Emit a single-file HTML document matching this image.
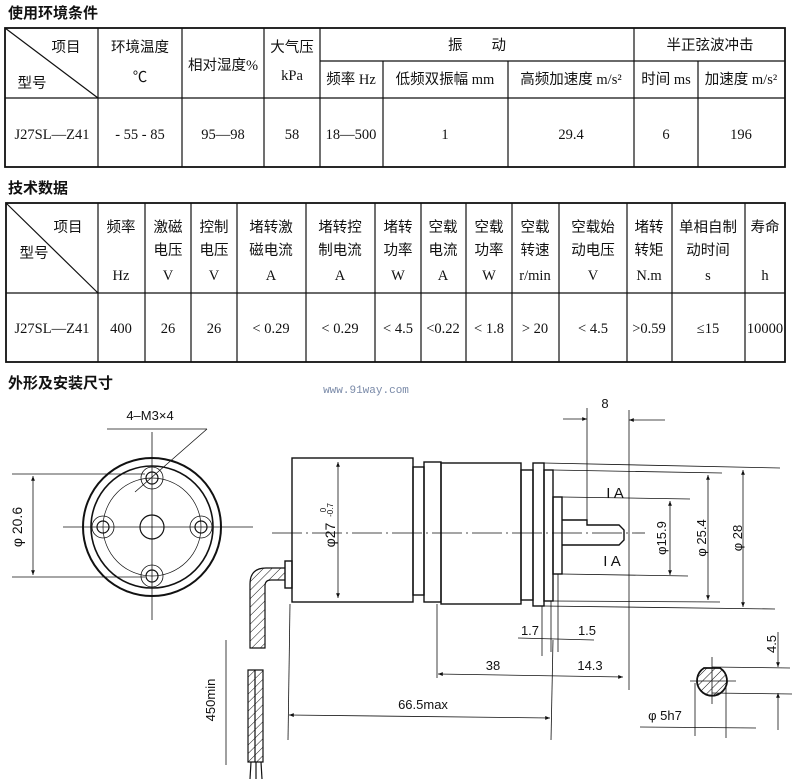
<!DOCTYPE html>
<html><head><meta charset="utf-8"><style>
body{margin:0;background:#fff;}
svg{display:block}
.t{font-family:"Liberation Serif","Noto Sans CJK SC",serif;font-size:14.5px;fill:#111;text-anchor:middle}
.h{font-family:"Liberation Sans","Noto Sans CJK SC",sans-serif;font-size:15px;font-weight:bold;fill:#111}
.d{font-family:"Liberation Sans",sans-serif;font-size:13px;fill:#111;text-anchor:middle}
.ln{stroke:#111;fill:none}
</style></head><body>
<svg width="800" height="779" viewBox="0 0 800 779" xmlns="http://www.w3.org/2000/svg">
<defs>
<marker id="a" viewBox="0 0 10 10" refX="10" refY="5" markerWidth="8" markerHeight="6" orient="auto-start-reverse"><path d="M0,1 L10,5 L0,9z" fill="#111"/></marker>
<pattern id="hx" width="6" height="6" patternUnits="userSpaceOnUse" patternTransform="rotate(45)"><line x1="0" y1="0" x2="0" y2="6" stroke="#111" stroke-width="1"/></pattern>
</defs>
<text class="h" x="8" y="18">使用环境条件</text>
<text class="h" x="8" y="193">技术数据</text>
<text class="h" x="8" y="388">外形及安装尺寸</text>

<g class="ln" stroke-width="1.2">
<rect x="5" y="28" width="780" height="139" stroke-width="1.8"/>
<line x1="5" y1="98" x2="785" y2="98"/>
<line x1="320" y1="61" x2="785" y2="61"/>
<line x1="5" y1="28" x2="98" y2="98"/>
<line x1="98" y1="28" x2="98" y2="167"/><line x1="182" y1="28" x2="182" y2="167"/>
<line x1="264" y1="28" x2="264" y2="167"/><line x1="320" y1="28" x2="320" y2="167"/>
<line x1="383" y1="61" x2="383" y2="167"/><line x1="508" y1="61" x2="508" y2="167"/>
<line x1="634" y1="28" x2="634" y2="167"/><line x1="698" y1="61" x2="698" y2="167"/>
</g>
<g class="t">
<text x="66" y="52">项目</text><text x="32" y="88">型号</text>
<text x="140" y="52">环境温度</text><text x="140" y="82">℃</text>
<text x="223" y="70">相对湿度%</text>
<text x="292" y="52">大气压</text><text x="292" y="80">kPa</text>
<text x="477" y="50">振　　动</text><text x="710" y="50">半正弦波冲击</text>
<text x="351" y="84">频率 Hz</text><text x="445" y="84">低频双振幅 mm</text>
<text x="571" y="84">高频加速度 m/s²</text><text x="666" y="84">时间 ms</text><text x="741" y="84">加速度 m/s²</text>
<text x="52" y="139">J27SL—Z41</text><text x="140" y="139">- 55 - 85</text><text x="223" y="139">95—98</text>
<text x="292" y="139">58</text><text x="351" y="139">18—500</text><text x="445" y="139">1</text>
<text x="571" y="139">29.4</text><text x="666" y="139">6</text><text x="741" y="139">196</text>
</g>

<g class="ln" stroke-width="1.2">
<rect x="6" y="203" width="779" height="159" stroke-width="1.8"/>
<line x1="6" y1="293" x2="785" y2="293"/>
<line x1="6" y1="203" x2="98" y2="293"/>
<line x1="98" y1="203" x2="98" y2="362"/><line x1="145" y1="203" x2="145" y2="362"/>
<line x1="191" y1="203" x2="191" y2="362"/><line x1="237" y1="203" x2="237" y2="362"/>
<line x1="306" y1="203" x2="306" y2="362"/><line x1="375" y1="203" x2="375" y2="362"/>
<line x1="421" y1="203" x2="421" y2="362"/><line x1="466" y1="203" x2="466" y2="362"/>
<line x1="512" y1="203" x2="512" y2="362"/><line x1="559" y1="203" x2="559" y2="362"/>
<line x1="627" y1="203" x2="627" y2="362"/><line x1="672" y1="203" x2="672" y2="362"/>
<line x1="745" y1="203" x2="745" y2="362"/>
</g>
<g class="t">
<text x="68" y="232">项目</text><text x="34" y="258">型号</text>
<text x="121" y="232">频率</text><text x="121" y="280">Hz</text>
<text x="168" y="232">激磁</text><text x="168" y="255">电压</text><text x="168" y="280">V</text>
<text x="214" y="232">控制</text><text x="214" y="255">电压</text><text x="214" y="280">V</text>
<text x="271" y="232">堵转激</text><text x="271" y="255">磁电流</text><text x="271" y="280">A</text>
<text x="340" y="232">堵转控</text><text x="340" y="255">制电流</text><text x="340" y="280">A</text>
<text x="398" y="232">堵转</text><text x="398" y="255">功率</text><text x="398" y="280">W</text>
<text x="443" y="232">空载</text><text x="443" y="255">电流</text><text x="443" y="280">A</text>
<text x="489" y="232">空载</text><text x="489" y="255">功率</text><text x="489" y="280">W</text>
<text x="535" y="232">空载</text><text x="535" y="255">转速</text><text x="535" y="280">r/min</text>
<text x="593" y="232">空载始</text><text x="593" y="255">动电压</text><text x="593" y="280">V</text>
<text x="649" y="232">堵转</text><text x="649" y="255">转矩</text><text x="649" y="280">N.m</text>
<text x="708" y="232">单相自制</text><text x="708" y="255">动时间</text><text x="708" y="280">s</text>
<text x="765" y="232">寿命</text><text x="765" y="280">h</text>
<text x="52" y="333">J27SL—Z41</text><text x="121" y="333">400</text><text x="168" y="333">26</text>
<text x="214" y="333">26</text><text x="271" y="333">&lt; 0.29</text><text x="340" y="333">&lt; 0.29</text>
<text x="398" y="333">&lt; 4.5</text><text x="443" y="333">&lt;0.22</text><text x="489" y="333">&lt; 1.8</text>
<text x="535" y="333">&gt; 20</text><text x="593" y="333">&lt; 4.5</text><text x="649" y="333">&gt;0.59</text>
<text x="708" y="333">≤15</text><text x="765" y="333">10000</text>
</g>

<text x="366" y="393" style="font-family:'Liberation Mono',monospace;font-size:11px;fill:#7a8aa8;text-anchor:middle">www.91way.com</text>

<g class="ln" stroke-width="1.2">
<circle cx="152" cy="527" r="69" stroke-width="2"/>
<circle cx="152" cy="527" r="61" stroke-width="1.6"/>
<circle cx="152" cy="527" r="49" stroke-width="0.7"/>
<circle cx="152" cy="527" r="12"/>
<circle cx="152" cy="478" r="11" stroke-width="0.8"/><circle cx="152" cy="478" r="6"/>
<circle cx="152" cy="576" r="11" stroke-width="0.8"/><circle cx="152" cy="576" r="6"/>
<circle cx="103" cy="527" r="11" stroke-width="0.8"/><circle cx="103" cy="527" r="6"/>
<circle cx="201" cy="527" r="11" stroke-width="0.8"/><circle cx="201" cy="527" r="6"/>
<line x1="63" y1="527" x2="253" y2="527" stroke-width="0.8"/>
<line x1="152" y1="432" x2="152" y2="620" stroke-width="0.8"/>
<line x1="107" y1="429" x2="207" y2="429" stroke-width="0.8"/>
<line x1="207" y1="429" x2="135" y2="492" stroke-width="0.8"/>
<line x1="12" y1="474" x2="145" y2="474" stroke-width="0.8"/>
<line x1="12" y1="577" x2="145" y2="577" stroke-width="0.8"/>
<line x1="33" y1="476" x2="33" y2="575" stroke-width="0.8" marker-start="url(#a)" marker-end="url(#a)"/>
</g>
<text class="d" x="150" y="420">4–M3×4</text>
<text class="d" transform="translate(22,527) rotate(-90)" style="font-size:14px">φ 20.6</text>

<g class="ln" stroke-width="1.4">
<rect x="292" y="458" width="121" height="144"/>
<rect x="413" y="467" width="11" height="128"/>
<rect x="424" y="462" width="17" height="140"/>
<rect x="441" y="463" width="80" height="141"/>
<rect x="521" y="470" width="12" height="130"/>
<rect x="533" y="463" width="11" height="143"/>
<rect x="544" y="470" width="9" height="131"/>
<rect x="553" y="497" width="9" height="77"/>
<path d="M562,520 H587 V525 H619 L624,530 V540 L619,545 H562"/>
<rect x="285" y="561" width="7" height="27"/>
</g>
<g class="ln" stroke-width="0.8">
<line x1="272" y1="533" x2="645" y2="533" stroke-dasharray="30 4 2 4"/>
<line x1="338" y1="462" x2="338" y2="598" marker-start="url(#a)" marker-end="url(#a)"/>
<line x1="544" y1="463" x2="780" y2="468"/><line x1="544" y1="606" x2="775" y2="609"/>
<line x1="553" y1="470" x2="722" y2="473"/><line x1="553" y1="601" x2="720" y2="602"/>
<line x1="562" y1="497" x2="690" y2="499"/><line x1="562" y1="574" x2="688" y2="576"/>
<line x1="743" y1="470" x2="743" y2="607" marker-start="url(#a)" marker-end="url(#a)"/>
<line x1="708" y1="475" x2="708" y2="600" marker-start="url(#a)" marker-end="url(#a)"/>
<line x1="670" y1="501" x2="670" y2="575" marker-start="url(#a)" marker-end="url(#a)"/>
<line x1="587" y1="408" x2="587" y2="520"/><line x1="629" y1="410" x2="629" y2="690"/>
<line x1="563" y1="419" x2="587" y2="419" marker-end="url(#a)"/>
<line x1="665" y1="420" x2="629" y2="420" marker-end="url(#a)"/>
<line x1="290" y1="604" x2="288" y2="740"/>
<line x1="437" y1="604" x2="437" y2="678"/>
<line x1="542" y1="606" x2="542" y2="656"/>
<line x1="551" y1="601" x2="551" y2="652"/><line x1="558" y1="574" x2="558" y2="652"/>
<line x1="553" y1="640" x2="551" y2="740"/>
<line x1="518" y1="638" x2="594" y2="640"/>
<line x1="438" y1="674" x2="623" y2="677" marker-start="url(#a)" marker-end="url(#a)"/>
<line x1="289" y1="715" x2="550" y2="718" marker-start="url(#a)" marker-end="url(#a)"/>
<line x1="640" y1="727" x2="756" y2="728"/>
<line x1="695" y1="683" x2="695" y2="736"/><line x1="726" y1="683" x2="726" y2="738"/>
<line x1="712" y1="667" x2="790" y2="668"/><line x1="712" y1="693" x2="792" y2="694"/>
<line x1="778" y1="632" x2="778" y2="667" marker-end="url(#a)"/>
<line x1="778" y1="730" x2="778" y2="693" marker-end="url(#a)"/>
</g>
<path d="M704,668 H720 A15,15 0 1 1 704,668 Z" fill="url(#hx)" stroke="#111" stroke-width="1.8"/>
<g class="ln" stroke-width="0.8"><line x1="712" y1="657" x2="712" y2="704"/><line x1="690" y1="681" x2="736" y2="681"/></g>
<g class="ln" stroke-width="1.2">
<path d="M285,568 H266 Q250,568 250,584 V648 H265 V586 Q265,580 271,580 H285" fill="url(#hx)"/>
<path d="M248,670 H263 V762 H248 Z" fill="url(#hx)"/>
<line x1="255" y1="670" x2="255" y2="762"/>
<line x1="251" y1="762" x2="250" y2="779"/><line x1="256" y1="762" x2="256" y2="779"/><line x1="261" y1="762" x2="262" y2="779"/>
<line x1="226" y1="640" x2="226" y2="765" stroke-width="0.8"/>
</g>
<text class="d" transform="translate(215,700) rotate(-90)">450min</text>
<text class="d" transform="translate(335,535) rotate(-90)" style="font-size:14px">φ27</text>
<text class="d" transform="translate(326,510) rotate(-90)" style="font-size:8px">0</text>
<text class="d" transform="translate(333,510) rotate(-90)" style="font-size:8px">-0.7</text>
<text class="d" transform="translate(666,538) rotate(-90)">φ15.9</text>
<text class="d" transform="translate(706,538) rotate(-90)">φ 25.4</text>
<text class="d" transform="translate(742,538) rotate(-90)">φ 28</text>
<text class="d" transform="translate(776,644) rotate(-90)">4.5</text>
<text class="d" x="605" y="408">8</text>
<text class="d" x="615" y="498" style="font-size:15px">I A</text>
<text class="d" x="612" y="566" style="font-size:15px">I A</text>
<text class="d" x="530" y="635">1.7</text>
<text class="d" x="587" y="635">1.5</text>
<text class="d" x="493" y="670">38</text>
<text class="d" x="590" y="670">14.3</text>
<text class="d" x="423" y="709">66.5max</text>
<text class="d" x="665" y="720">φ 5h7</text>
</svg>
</body></html>
